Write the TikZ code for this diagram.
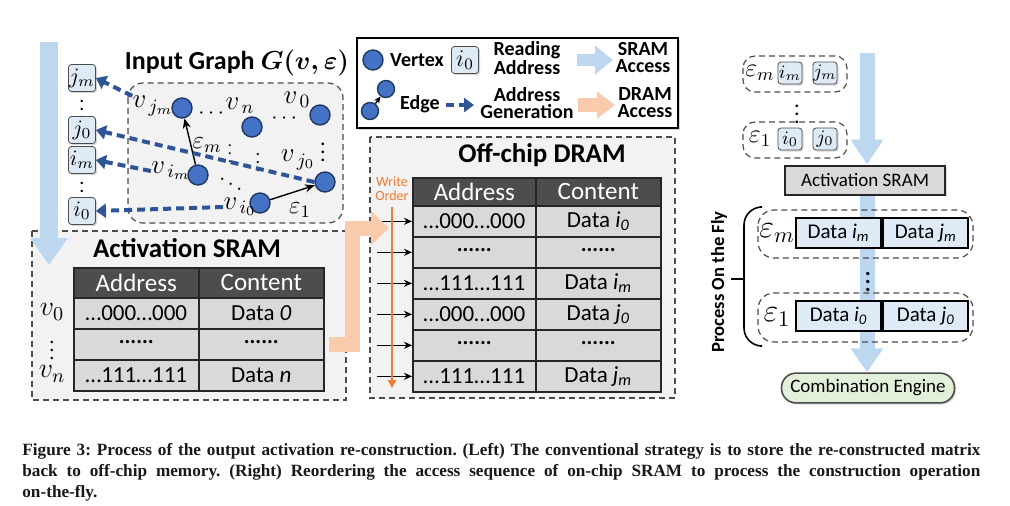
\RequirePackage{fix-cm}
\documentclass[tikz,border=0pt]{standalone}
\usepackage{amsmath}
\usepackage{amssymb}
\usepackage[no-math]{fontspec}
\setmainfont{Carlito}
\newfontfamily\captionserif{Liberation Serif}
\usepackage{tikz}
\usetikzlibrary{calc}
\usetikzlibrary{shadows,arrows.meta,positioning,backgrounds}

\definecolor{vtxblue}{HTML}{4472C4}
\definecolor{vtxline}{HTML}{203864}
\definecolor{genblue}{HTML}{2F5597}
\definecolor{sramblue}{HTML}{BDD7EE}
\definecolor{dramorange}{HTML}{F8CBAD}
\definecolor{boxblue}{HTML}{DEEBF7}
\definecolor{panelgray}{HTML}{F2F2F2}
\definecolor{headgray}{HTML}{4D4D4D}
\definecolor{rowgray}{HTML}{D9D9D9}
\definecolor{orderorange}{HTML}{ED7D31}
\definecolor{enginegreen}{HTML}{E2F0D9}

\newcommand{\fsz}[1]{\fontsize{#1}{#1}\selectfont}

\tikzset{
  softshadow/.style={drop shadow={shadow xshift=.8pt,shadow yshift=-.8pt,opacity=.3}},
  addr/.style={draw=black!70,fill=boxblue,rounded corners=1.5pt,minimum size=13.5pt,inner sep=0pt,softshadow,font=\fsz{11}},
  smalladdr/.style={addr,minimum width=12pt,minimum height=11pt,font=\fsz{9.5}},
  vtx/.style={circle,draw=vtxline,line width=.7pt,fill=vtxblue,minimum size=10pt,inner sep=0pt},
  glabel/.style={inner sep=0pt,font=\fsz{13.5}},
  gedge/.style={line width=.7pt,-{Stealth[length=5pt,width=4pt]}},
  gen/.style={draw=genblue,line width=2pt,dash pattern=on 4pt off 2.5pt,-{Triangle[length=5pt,width=7pt]}},
  panel/.style={draw=black!70,line width=.6pt,dash pattern=on 3pt off 2pt,fill=panelgray},
  tuplebox/.style={draw=black!70,line width=.6pt,dash pattern=on 3pt off 2pt},
  heading/.style={font=\bfseries\fsz{13.5}},
  hcell/.style={draw=black!85,line width=.8pt,fill=headgray,text=white,inner sep=0pt,font=\fsz{12.5},anchor=north west},
  cell/.style={draw=black!85,line width=.8pt,fill=rowgray,minimum height=15.5pt,inner sep=0pt,font=\fsz{11.5},anchor=north west},
  sramarrow/.style={draw=sramblue,line width=9pt,-{Triangle[length=13.5pt,width=18pt]}},
  dramarrow/.style={draw=dramorange,line width=7.5pt,line join=miter,-{Triangle[length=9pt,width=16.5pt]}},
  rowin/.style={line width=.8pt,-{Stealth[length=4pt,width=3.5pt]}},
  lgtext/.style={font=\bfseries\fontsize{10}{8.5}\selectfont,align=center,inner sep=0pt},
  dbox/.style={draw=black,line width=1.1pt,fill=boxblue,minimum width=42.5pt,minimum height=15pt,inner sep=0pt,anchor=west,font=\fsz{10.5}},
}

\begin{document}
\begin{tikzpicture}[x=0.5pt,y=-0.5pt]
  \begin{scope}[on background layer]
    \fill[white] (0,0) rectangle (1010,505);
  \end{scope}
  \useasboundingbox (0,0) rectangle (1010,505);

  % left half: graph, activation sram, dram
  \draw[panel,rounded corners=7.5pt] (128,83) rectangle (343,223);
  \draw[panel] (32,231) rectangle (346,400);
  \draw[panel] (370,137) rectangle (675,398);

  \coordinate (ltop) at (49,42);
  \coordinate (lbot) at (49,265);
  \draw[sramarrow] (ltop) -- (lbot);

  \node[addr] (ajm) at (82,78) {$j_m$};
  \node[font=\fsz{10}] (adots1) at (82,103) {$\vdots$};
  \node[addr] (aj0) at (82,130) {$j_0$};
  \node[addr] (aim) at (82,160) {$i_m$};
  \node[font=\fsz{10}] (adots2) at (82,185) {$\vdots$};
  \node[addr] (ai0) at (82,211) {$i_0$};

  \node[heading,font=\bfseries\fsz{13}] (gtitle) at (237,63) {Input Graph $\boldsymbol{G(v,\varepsilon)}$};

  \node[vtx] (vjm) at (182,108) {};
  \node[vtx] (vn) at (252,127) {};
  \node[vtx] (v0) at (320,115) {};
  \node[vtx] (vim) at (198,175) {};
  \node[vtx] (vj0) at (325,182) {};
  \node[vtx] (vi0) at (260,203) {};

  \node[glabel] (lvjm) at (153,106) {$v_{\,j_m}$};
  \node[glabel] (lvn) at (240,106) {$v_{\,n}$};
  \node[glabel] (lv0) at (297,100) {$v_{\,0}$};
  \node[glabel] (lvim) at (171,171) {$v_{\,i_m}$};
  \node[glabel] (lvj0) at (298,160) {$v_{\,j_0}$};
  \node[glabel] (lvi0) at (240,207) {$v_{\,i_0}$};
  \node[glabel,font=\fsz{12.5}] (lem) at (207,145) {$\varepsilon_m$};
  \node[glabel,font=\fsz{12.5}] (le1) at (300,210) {$\varepsilon_1$};
  \node[glabel,font=\fsz{11}] (gd1) at (213,114) {$\cdots$};
  \node[glabel,font=\fsz{11}] (gd2) at (286,119) {$\cdots$};
  \node[glabel,font=\fsz{11}] (gd3) at (323,146) {$\vdots$};
  \node[glabel,font=\fsz{8}] (gd4) at (230,148) {$\vdots$};
  \node[glabel,font=\fsz{9}] (gd5) at (258,157) {$\vdots$};
  \node[glabel,font=\fsz{11},rotate=-30] (gd6) at (232,186) {$\cdots$};

  \draw[gedge] (vim) -- (vjm);
  \draw[gedge] (vi0) -- (vj0);
  \draw[gen] (lvjm.north west) -- (ajm.east);
  \draw[gen] (vj0.west) -- (aj0.east);
  \draw[gen] (lvim.west) -- (aim.east);
  \draw[gen] (lvi0.west) -- (ai0.east);

  % activation sram table
  \node[heading] (satitle) at (187,248) {Activation SRAM};
  \fill[black,opacity=.25] (75,269) rectangle (325,392);
  \node[hcell,minimum width=62.5pt,minimum height=15pt] (sa-h-a) at (73,267) {Address};
  \node[hcell,minimum width=62.5pt,minimum height=15pt] (sa-h-c) at (198,267) {Content};
  \foreach \ad/\ct [count=\r] in {…000…000/Data \textit{0},······/······,…111…111/Data \textit{n}} {
    \node[cell,minimum width=62.5pt] (sa-\r-a) at (73,{297+31*(\r-1)}) {\ad};
    \node[cell,minimum width=62.5pt] (sa-\r-c) at (198,{297+31*(\r-1)}) {\ct};
  }
  \node[glabel,font=\fsz{14}] (rv0) at (52,312) {$v_0$};
  \node[glabel,font=\fsz{10}] (rvd) at (52,344) {$\vdots$};
  \node[glabel,font=\fsz{14}] (rvn) at (52,374) {$v_n$};

  % dram table
  \node[heading] (dtitle) at (542,155) {Off-chip DRAM};
  \fill[black,opacity=.25] (414,179) rectangle (662,393);
  \node[hcell,minimum width=61.5pt,minimum height=14pt] (dr-h-a) at (412,177) {Address};
  \node[hcell,minimum width=62.5pt,minimum height=14pt] (dr-h-c) at (535,177) {Content};
  \foreach \ad/\ct [count=\r] in {…000…000/Data \textit{i\textsubscript{0}},······/······,…111…111/Data \textit{i\textsubscript{m}},…000…000/Data \textit{j\textsubscript{0}},······/······,…111…111/Data \textit{j\textsubscript{m}}} {
    \node[cell,minimum width=61.5pt] (dr-\r-a) at (412,{205+31*(\r-1)}) {\ad};
    \node[cell,minimum width=62.5pt] (dr-\r-c) at (535,{205+31*(\r-1)}) {\ct};
    \coordinate (wi-\r) at ($(dr-\r-a.west)+(-35,0)$);
    \draw[rowin] (wi-\r) -- (dr-\r-a.west);
  }
  \node[font=\fsz{7},text=orderorange,align=center,inner sep=0pt] (word) at (392,189) {Write\\Order};
  \coordinate (wend) at (392,388);
  \draw[draw=orderorange,line width=1pt,-{Triangle[length=4pt,width=4pt]}] ([yshift=-3pt]word.south) -- (wend);

  \coordinate (dbend) at (352,228);
  \coordinate (dtip) at (389,228);
  \draw[dramarrow] ([xshift=2pt]sa-2-c.east) -| (dbend) -- (dtip);

  % legend
  \draw[line width=.9pt,fill=white,softshadow] (357,38) rectangle (678,128);
  \node[vtx] (lgv) at (373,60) {};
  \node[lgtext] (lgvt) at (417,60) {Vertex};
  \node[addr,font=\fsz{12}] (lga) at (465,60) {$i_0$};
  \node[lgtext] (lgat) at (527,58) {Reading\\Address};
  \coordinate (lgs1) at (577,60);
  \coordinate (lgs2) at (613,60);
  \draw[draw=sramblue,line width=6pt,-{Triangle[length=9pt,width=14pt]}] (lgs1) -- (lgs2);
  \node[lgtext] (lgst) at (643,58) {SRAM\\Access};
  \node[vtx,minimum size=8.5pt] (lge1) at (370,111) {};
  \node[vtx,minimum size=8.5pt] (lge2) at (386,89) {};
  \draw[line width=.7pt,-{Stealth[length=3.5pt,width=3pt]}] (lge1) -- (lge2);
  \node[lgtext] (lget) at (420,104) {Edge};
  \coordinate (lgg1) at (446,105);
  \coordinate (lgg2) at (474,105);
  \draw[gen] (lgg1) -- (lgg2);
  \node[lgtext] (lggt) at (527,103) {Address\\Generation};
  \coordinate (lgd1) at (578,105);
  \coordinate (lgd2) at (615,105);
  \draw[draw=dramorange,line width=7pt,-{Triangle[length=9pt,width=13pt]}] (lgd1) -- (lgd2);
  \node[lgtext] (lgdt) at (645,103) {DRAM\\Access};

  % right half: process on the fly
  \draw[tuplebox,rounded corners=6pt] (743,56) rectangle (847,92);
  \draw[tuplebox,rounded corners=6pt] (743,122) rectangle (847,158);
  \node[inner sep=0pt,font=\fsz{13}] (tem) at (760,73) {$\varepsilon_m$};
  \node[smalladdr] (tim) at (790,73) {$i_m$};
  \node[smalladdr] (tjm) at (825,73) {$j_m$};
  \node[font=\fsz{11}] (tdots) at (797,108) {$\vdots$};
  \node[inner sep=0pt,font=\fsz{13}] (te1) at (760,139) {$\varepsilon_1$};
  \node[smalladdr] (ti0) at (790,139) {$i_0$};
  \node[smalladdr] (tj0) at (825,139) {$j_0$};

  \coordinate (rtop) at (867,53);
  \node[draw=black!85,line width=1pt,fill=rowgray,minimum width=80pt,minimum height=14.5pt,font=\fsz{9.5},softshadow] (rsram) at (865,180) {Activation SRAM};
  \node[draw=black!70,line width=.8pt,fill=enginegreen,rounded corners=7.25pt,minimum width=86.5pt,minimum height=14.5pt,font=\fsz{9.5},softshadow] (engine) at (868,388) {Combination Engine};
  \begin{scope}[on background layer]
    \draw[sramarrow,line width=7.5pt,-{Triangle[length=12.5pt,width=15.5pt]}] (rtop) -- (rtop |- rsram.north);
    \draw[sramarrow,line width=7.5pt,-{Triangle[length=12pt,width=15.5pt]}] (rsram.south -| rtop) -- (rtop |- engine.north);
  \end{scope}

  \draw[tuplebox,rounded corners=8pt] (758,210) rectangle (973,258);
  \draw[tuplebox,rounded corners=8pt] (758,293) rectangle (973,342);
  \node[inner sep=0pt,font=\fsz{16}] (pem) at (777,233) {$\varepsilon_m$};
  \node[dbox] (pim) at (795,233) {Data \textit{i\textsubscript{m}}};
  \node[dbox,right=0pt of pim] (pjm) {Data \textit{j\textsubscript{m}}};
  \node[font=\fsz{14}] (pdots) at (868,276) {$\vdots$};
  \node[inner sep=0pt,font=\fsz{16}] (pe1) at (777,317) {$\varepsilon_1$};
  \node[dbox] (pi0) at (795,316) {Data \textit{i\textsubscript{0}}};
  \node[dbox,right=0pt of pi0] (pj0) {Data \textit{j\textsubscript{0}}};

  \draw[line width=.8pt,rounded corners=9pt] (760,207) -- (744,207) -- (744,346) -- (760,346);
  \draw[line width=.8pt] (744,279) -- (731,279);
  \node[rotate=90,font=\bfseries\fsz{9.3},inner sep=0pt] (pof) at (719,282) {Process On the Fly};

  % caption
  \node[anchor=north west,inner sep=0pt,text width=479pt,align=justify,text=black!90,font=\captionserif\bfseries\fontsize{8.6}{10.5}\selectfont\frenchspacing] (cap) at (22,443) {Figure 3: Process of the output activation re-construction. (Left) The conventional strategy is to store the re-constructed matrix\linebreak back to off-chip memory. (Right) Reordering the access sequence of on-chip SRAM to process the construction operation\linebreak on-the-fly.};
\end{tikzpicture}
\end{document}
